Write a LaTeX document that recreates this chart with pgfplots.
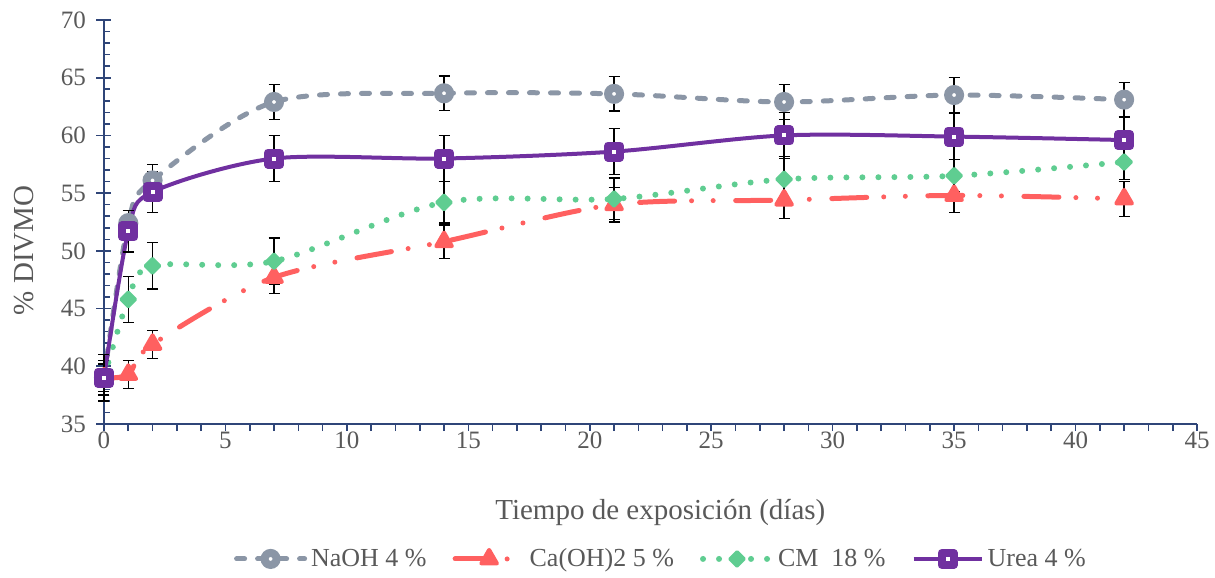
\documentclass[border=0pt]{standalone}
\usepackage{fontspec}
\setmainfont{Liberation Serif}
\usepackage{pgfplots}
\pgfplotsset{compat=1.18}
\definecolor{axiscol}{RGB}{47,69,120}
\definecolor{txt}{RGB}{89,89,89}
\definecolor{cnaoh}{RGB}{139,150,166}
\definecolor{cca}{RGB}{255,96,96}
\definecolor{ccm}{RGB}{95,205,145}
\definecolor{curea}{RGB}{112,48,160}
\begin{document}
\begin{tikzpicture}
\begin{axis}[
  at={(0,0)}, anchor=south west,
  scale only axis, width=546.5pt, height=202pt,
  xmin=0, xmax=45, ymin=35, ymax=70,
  axis lines=left,
  axis line style={axiscol, line width=0.9pt, -},
  xtick={0,5,...,45}, minor x tick num=4,
  ytick={35,40,...,70},
  tick align=outside, major tick length=3.5pt, minor tick length=3.5pt,
  tick style={axiscol, line width=0.8pt},
  ytick style={draw=none},
  tick label style={font=\fontsize{12.5}{14}\selectfont, text=txt},
  /pgf/number format/assume math mode=true,
  yticklabel style={xshift=-2pt},
  xticklabel style={yshift=3pt},
  xlabel={Tiempo de exposición (días)},
  ylabel={\% DIVMO},
  label style={font=\fontsize{14.5}{16}\selectfont, text=txt},
  xlabel style={at={(axis description cs:0.509,-0.22)}, anchor=center},
  ylabel style={at={(axis description cs:-0.0732,0.43)}, anchor=center, rotate=0},
  clip=false,
  legend columns=4,
  legend cell align=left,
  legend style={at={(0.5105,-0.334)}, anchor=center, draw=none, fill=none,
    font=\fontsize{13}{15}\selectfont, text=txt,
    /tikz/every even column/.append style={column sep=11pt}},
  legend image code/.code={\draw[mark repeat=2,mark phase=2,#1] plot coordinates {(0pt,0pt) (17pt,0pt) (34pt,0pt)};},
]
\pgfplotsinvokeforeach{35,...,70}{\draw[axiscol, line width=0.8pt] (axis cs:0,#1) -- ([xshift=3pt]axis cs:0,#1);}
\pgfplotsinvokeforeach{35,40,...,70}{\draw[axiscol, line width=0.8pt] ([xshift=-3.75pt]axis cs:0,#1) -- ([xshift=3.75pt]axis cs:0,#1);}

\addplot[cnaoh, line width=2.5pt, dash pattern=on 4pt off 6.5pt, line cap=round, smooth,
  mark=*, mark size=3pt, mark options={solid, fill=white, draw=cnaoh, line width=4pt},
  error bars/.cd, y dir=both, y explicit,
  error bar style={black, line width=0.7pt, solid, line cap=butt},
  error mark options={rotate=90, black, mark size=2.75pt, line width=0.7pt, solid}]
table[x=x, y=y, y error=e] {
x y e
0 39.0 1.5
1 52.4 1.1
2 56.1 1.4
7 62.9 1.5
14 63.65 1.5
21 63.6 1.5
28 62.9 1.5
35 63.5 1.5
42 63.1 1.5
};
\addlegendentry{NaOH 4 \%}

\addplot[cca, line width=2.5pt, dash pattern=on 17.5pt off 8.5pt on 0pt off 10.8pt on 0pt off 11.25pt, line cap=round, smooth,
  mark=triangle*, mark size=4.5pt, mark options={solid, fill=cca, draw=cca, line width=2pt, line join=round},
  error bars/.cd, y dir=both, y explicit,
  error bar style={black, line width=0.7pt, solid, line cap=butt},
  error mark options={rotate=90, black, mark size=2.75pt, line width=0.7pt, solid}]
table[x=x, y=y, y error=e] {
x y e
0 39.0 1.2
1 39.3 1.2
2 41.9 1.2
7 47.7 1.4
14 50.8 1.45
21 54.0 1.5
28 54.4 1.6
35 54.8 1.5
42 54.5 1.5
};
\addlegendentry{Ca(OH)2 5 \%}

\addplot[ccm, line width=3pt, dash pattern=on 0pt off 8pt, line cap=round, smooth,
  mark=square*, mark size=2.6pt, mark options={solid, fill=ccm, draw=ccm, line width=1.5pt, line join=round, rotate=45},
  error bars/.cd, y dir=both, y explicit,
  error bar style={black, line width=0.7pt, solid, line cap=butt},
  error mark options={rotate=90, black, mark size=2.75pt, line width=0.7pt, solid}]
table[x=x, y=y, y error=e] {
x y e
0 39.0 1.5
1 45.8 2.0
2 48.7 2.0
7 49.1 2.0
14 54.2 1.8
21 54.5 1.8
28 56.2 2.0
35 56.5 1.4
42 57.7 1.5
};
\addlegendentry{CM~~18 \%}

\addplot[curea, line width=2pt, solid, smooth,
  mark=square*, mark size=3pt, mark options={solid, fill=white, draw=curea, line width=4pt, line join=round},
  error bars/.cd, y dir=both, y explicit,
  error bar style={black, line width=0.7pt, solid, line cap=butt},
  error mark options={rotate=90, black, mark size=2.75pt, line width=0.7pt, solid}]
table[x=x, y=y, y error=e] {
x y e
0 39.0 2.0
1 51.7 1.8
2 55.1 1.8
7 58.0 2.0
14 58.0 2.0
21 58.6 2.0
28 60.0 2.0
35 59.9 2.0
42 59.6 2.0
};
\addlegendentry{Urea 4 \%}
\end{axis}
\pgfresetboundingbox
\path[use as bounding box] (-52pt,-77pt) rectangle (555.5pt,212pt);
\end{tikzpicture}
\end{document}
